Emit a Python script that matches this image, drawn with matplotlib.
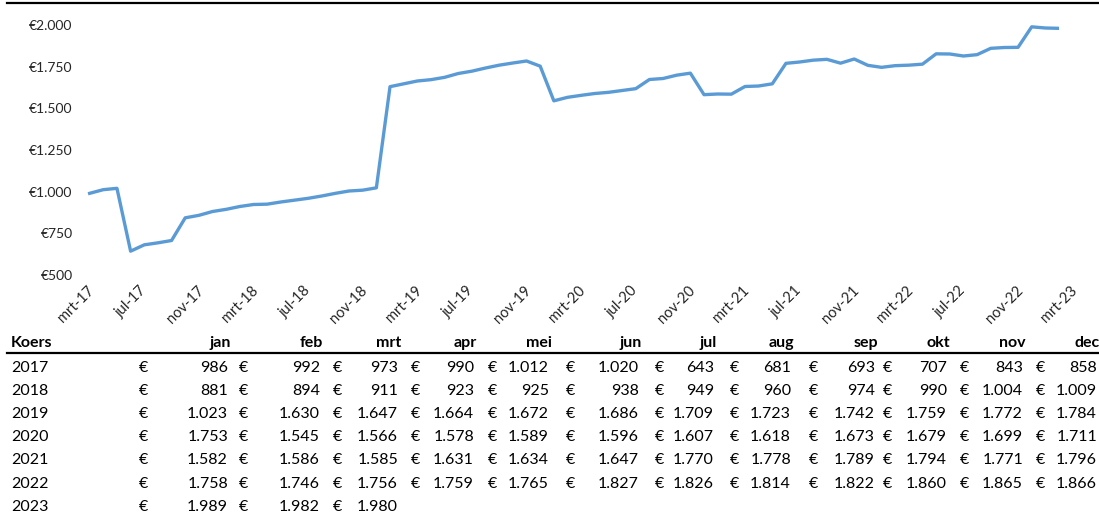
import matplotlib
matplotlib.use("Agg")
import matplotlib.pyplot as plt
import matplotlib.ticker as mtick
from matplotlib.lines import Line2D

W, H = 1099, 512

MONTHS = ["jan", "feb", "mrt", "apr", "mei", "jun",
          "jul", "aug", "sep", "okt", "nov", "dec"]
YEARS = [2017, 2018, 2019, 2020, 2021, 2022, 2023]

KOERS_2017 = [986, 992, 973, 990, 1012, 1020, 643, 681, 693, 707, 843, 858]
KOERS_2018 = [881, 894, 911, 923, 925, 938, 949, 960, 974, 990, 1004, 1009]
KOERS_2019 = [1023, 1630, 1647, 1664, 1672, 1686, 1709, 1723, 1742, 1759, 1772, 1784]
KOERS_2020 = [1753, 1545, 1566, 1578, 1589, 1596, 1607, 1618, 1673, 1679, 1699, 1711]
KOERS_2021 = [1582, 1586, 1585, 1631, 1634, 1647, 1770, 1778, 1789, 1794, 1771, 1796]
KOERS_2022 = [1758, 1746, 1756, 1759, 1765, 1827, 1826, 1814, 1822, 1860, 1865, 1866]
KOERS_2023 = [1989, 1982, 1980]

X_TICK_LABELS = ["mrt-17", "jul-17", "nov-17", "mrt-18", "jul-18", "nov-18",
                 "mrt-19", "jul-19", "nov-19", "mrt-20", "jul-20", "nov-20",
                 "mrt-21", "jul-21", "nov-21", "mrt-22", "jul-22", "nov-22",
                 "mrt-23"]
Y_TICKS = [500, 750, 1000, 1250, 1500, 1750, 2000]

LINE_COLOR = "#5B9BD5"
FONT = "Lato"
TABLE_SIZE = 11.5

# table column layout: x of the euro sign, right edge of the value (pixels)
EURO_X = [139, 239, 333, 411, 488, 566, 655, 730, 809, 883, 960, 1036]
VALUE_RIGHT = [228, 320, 398, 474, 549, 639, 714, 791, 875, 947, 1023, 1097]


def fx(x):
    return x / W


def fy(y):
    return 1 - y / H


def dutch(v):
    return f"{v:,}".replace(",", ".")


def main():
    rows = [KOERS_2017, KOERS_2018, KOERS_2019, KOERS_2020,
            KOERS_2021, KOERS_2022, KOERS_2023]
    all_values = [v for row in rows for v in row]
    # chart runs from apr-17 (index 3) onwards, x = months after mrt-17
    chart_values = all_values[3:]
    xs = list(range(1, len(chart_values) + 1))

    fig = plt.figure(figsize=(W / 100, H / 100), dpi=100)
    ax = fig.add_axes([fx(76), fy(275), (1059 - 76) / W, 250 / H])
    ax.plot(xs, chart_values, color=LINE_COLOR, lw=2.4)
    ax.set_xlim(0, 72)
    ax.set_ylim(500, 2000)
    ax.set_xticks(range(0, 73, 4))
    ax.set_xticklabels(X_TICK_LABELS, rotation=45, ha="center",
                       family=FONT, fontsize=10.5, color="#262626")
    ax.set_yticks(Y_TICKS)
    ax.yaxis.set_major_formatter(
        mtick.FuncFormatter(lambda v, _: "\u20ac" + dutch(int(v))))
    for lab in ax.get_yticklabels():
        lab.set_family(FONT)
        lab.set_fontsize(10)
        lab.set_color("#262626")
    ax.tick_params(axis="x", length=0, pad=6)
    ax.tick_params(axis="y", length=0, pad=2.5)
    for s in ax.spines.values():
        s.set_visible(False)

    # top border and table header rule
    fig.add_artist(Line2D([fx(7), 1], [fy(3), fy(3)], color="black", lw=1.6))
    fig.add_artist(Line2D([fx(7), 1], [fy(353), fy(353)], color="black", lw=1.6))

    # table header
    fig.text(fx(11), fy(347), "Koers", family=FONT, fontsize=TABLE_SIZE,
             fontweight="bold", va="baseline", ha="left")
    for m, right in zip(MONTHS, VALUE_RIGHT):
        fig.text(fx(right + 3), fy(347), m, family=FONT, fontsize=TABLE_SIZE,
                 fontweight="bold", va="baseline", ha="right")

    # table body
    for i, (year, row) in enumerate(zip(YEARS, rows)):
        base = 372 + 23.1 * i
        fig.text(fx(11), fy(base), str(year), family=FONT, fontsize=TABLE_SIZE,
                 va="baseline", ha="left")
        for v, ex, right in zip(row, EURO_X, VALUE_RIGHT):
            fig.text(fx(ex), fy(base), "\u20ac", family=FONT,
                     fontsize=TABLE_SIZE, va="baseline", ha="left")
            fig.text(fx(right), fy(base), dutch(v), family=FONT,
                     fontsize=TABLE_SIZE, va="baseline", ha="right")

    fig.savefig("out.png", dpi=100)
    plt.close(fig)


if __name__ == "__main__":
    main()
